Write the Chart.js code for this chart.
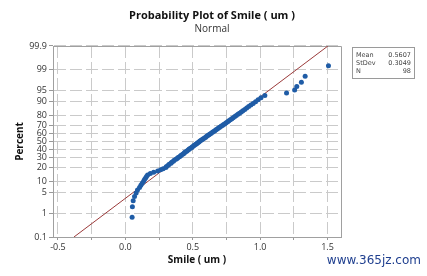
<!DOCTYPE html>
<html>
<head>
<meta charset="utf-8">
<script src="https://cdn.jsdelivr.net/npm/chart.js@4.4.0/dist/chart.umd.min.js"></script>
<style>
  html, body { margin: 0; padding: 0; background: #fff; }
</style>
</head>
<body>
<canvas id="myChart" width="427" height="276"></canvas>
<script>
// sorted Smile values (um), rank 1..98
const smile = [
  0.050, 0.052, 0.058, 0.068, 0.080, 0.090, 0.105, 0.115, 0.125, 0.135,
  0.142, 0.150, 0.157, 0.165, 0.185, 0.210, 0.240, 0.262, 0.280, 0.300,
  0.305, 0.318, 0.325, 0.338, 0.344, 0.356, 0.362, 0.375, 0.384, 0.391,
  0.402, 0.410, 0.417, 0.428, 0.436, 0.441, 0.452, 0.459, 0.468, 0.474,
  0.483, 0.492, 0.498, 0.507, 0.514, 0.523, 0.531, 0.537, 0.546, 0.553,
  0.562, 0.570, 0.578, 0.587, 0.596, 0.603, 0.612, 0.620, 0.628, 0.637,
  0.646, 0.655, 0.664, 0.672, 0.682, 0.691, 0.700, 0.710, 0.720, 0.729,
  0.739, 0.748, 0.759, 0.768, 0.779, 0.790, 0.800, 0.812, 0.823, 0.835,
  0.847, 0.860, 0.872, 0.886, 0.900, 0.915, 0.931, 0.948, 0.966, 0.985,
  1.006, 1.035, 1.196, 1.256, 1.272, 1.306, 1.334, 1.507
];
const pctTicks = [0.1, 1, 5, 10, 20, 30, 40, 50, 60, 70, 80, 90, 95, 99, 99.9];
const xTicks = [-0.5, -0.25, 0, 0.25, 0.5, 0.75, 1, 1.25, 1.5];
const statNames = ["Mean", "StDev", "N"];
const statValues = ["0.5607", "0.3049", "98"];
const mean = 0.5607;
const stdev = 0.3049;

// inverse normal cdf (Acklam) - used for the probability axis
function probit(p) {
  const a = [-39.69683028665376, 220.9460984245205, -275.9285104469687, 138.3577518672690, -30.66479806614716, 2.506628277459239];
  const b = [-54.47609879822406, 161.5858368580409, -155.6989798598866, 66.80131188771972, -13.28068155288572];
  const c = [-0.007784894002430293, -0.3223964580411365, -2.400758277161838, -2.549732539343734, 4.374664141464968, 2.938163982698783];
  const d = [0.007784695709041462, 0.3224671290700398, 2.445134137142996, 3.754408661907416];
  const plow = 0.02425;
  let q, r;
  if (p < plow) {
    q = Math.sqrt(-2 * Math.log(p));
    return (((((c[0]*q+c[1])*q+c[2])*q+c[3])*q+c[4])*q+c[5]) / ((((d[0]*q+d[1])*q+d[2])*q+d[3])*q+1);
  }
  if (p > 1 - plow) {
    q = Math.sqrt(-2 * Math.log(1 - p));
    return -(((((c[0]*q+c[1])*q+c[2])*q+c[3])*q+c[4])*q+c[5]) / ((((d[0]*q+d[1])*q+d[2])*q+d[3])*q+1);
  }
  q = p - 0.5; r = q * q;
  return (((((a[0]*r+a[1])*r+a[2])*r+a[3])*r+a[4])*r+a[5])*q / (((((b[0]*r+b[1])*r+b[2])*r+b[3])*r+b[4])*r+1);
}

const n = smile.length;
const pts = smile.map((v, i) => ({ x: v, y: probit((i + 1 - 0.3) / (n + 0.4)) }));
const zMin = probit(0.001), zMax = probit(0.999);
const fit = [{ x: mean + stdev * zMin, y: zMin }, { x: mean + stdev * zMax, y: zMax }];

const extras = {
  id: 'extras',
  beforeDatasetsDraw(chart) {
    const { ctx, chartArea: a } = chart;
    ctx.save();
    ctx.strokeStyle = '#a0a0a0';
    ctx.lineWidth = 1;
    ctx.beginPath();
    ctx.moveTo(a.left, a.top + 0.5);
    ctx.lineTo(a.right + 0.5, a.top + 0.5);
    ctx.lineTo(a.right + 0.5, a.bottom);
    ctx.stroke();
    ctx.restore();
  },
  afterDraw(chart) {
    const ctx = chart.ctx;
    ctx.save();
    ctx.textAlign = 'center';
    ctx.textBaseline = 'middle';
    ctx.fillStyle = '#111';
    ctx.font = 'bold 11px "Open Sans"';
    ctx.fillText('Probability Plot of Smile ( um )', 212, 16);
    ctx.fillStyle = '#333';
    ctx.font = '10px "Open Sans"';
    ctx.fillText('Normal', 212, 29);

    // stats box
    ctx.strokeStyle = '#9a9a9a';
    ctx.lineWidth = 1;
    ctx.strokeRect(352.5, 47.5, 62, 31);
    ctx.font = '6.5px "DejaVu Sans"';
    ctx.fillStyle = '#444';
    statNames.forEach((s, i) => {
      ctx.textAlign = 'left';
      ctx.fillText(s, 356, 55 + i * 8);
      ctx.textAlign = 'right';
      ctx.fillText(statValues[i], 411, 55 + i * 8);
    });

    // watermark
    ctx.textAlign = 'right';
    ctx.font = '12px "DejaVu Sans"';
    ctx.fillStyle = '#1f3f8f';
    ctx.fillText('www.365jz.com', 421, 261);
    ctx.restore();
  }
};

new Chart(document.getElementById('myChart'), {
  type: 'scatter',
  data: {
    datasets: [
      {
        label: 'Smile',
        data: pts,
        pointRadius: 2.5,
        pointBackgroundColor: '#1f5ca6',
        pointBorderColor: '#1f5ca6',
        pointBorderWidth: 0,
        order: 0
      },
      {
        type: 'line',
        label: 'Fit',
        data: fit,
        borderColor: '#9b3a3a',
        borderWidth: 1,
        pointRadius: 0,
        fill: false,
        order: 1
      }
    ]
  },
  options: {
    responsive: false,
    animation: false,
    layout: { padding: { top: 46, right: 86, left: 0, bottom: 0 } },
    plugins: { legend: { display: false }, tooltip: { enabled: false } },
    scales: {
      x: {
        type: 'linear',
        min: -0.537,
        max: 1.6,
        afterBuildTicks: s => { s.ticks = xTicks.map(v => ({ value: v })); },
        afterFit: s => { s.height = 39; },
        ticks: {
          autoSkip: false,
          maxRotation: 0,
          padding: 2,
          color: '#333',
          font: { family: 'Open Sans', size: 9 },
          callback: v => (Math.abs(v * 2 - Math.round(v * 2)) < 1e-9 ? v.toFixed(1) : '')
        },
        grid: { color: '#cacaca', tickLength: 3, tickColor: '#999' },
        border: { color: '#a0a0a0', dash: [12, 4] },
        title: {
          display: true,
          text: 'Smile ( um )',
          color: '#111',
          font: { family: 'Open Sans', size: 10, weight: 'bold' },
          padding: { top: 0, bottom: 10 }
        }
      },
      y: {
        type: 'linear',
        min: zMin,
        max: zMax,
        afterBuildTicks: s => { s.ticks = pctTicks.map(p => ({ value: probit(p / 100) })); },
        afterFit: s => { s.width = 53; },
        ticks: {
          autoSkip: false,
          padding: 2,
          color: '#333',
          font: { family: 'Open Sans', size: 9 },
          callback: (v, i) => String(pctTicks[i])
        },
        grid: { color: '#cacaca', tickLength: 4, tickColor: '#999' },
        border: { color: '#a0a0a0', dash: [12, 4] },
        title: {
          display: true,
          text: 'Percent',
          color: '#111',
          font: { family: 'Open Sans', size: 10, weight: 'bold' },
          padding: { top: 14, bottom: 0 }
        }
      }
    }
  },
  plugins: [extras]
});
</script>
</body>
</html>
